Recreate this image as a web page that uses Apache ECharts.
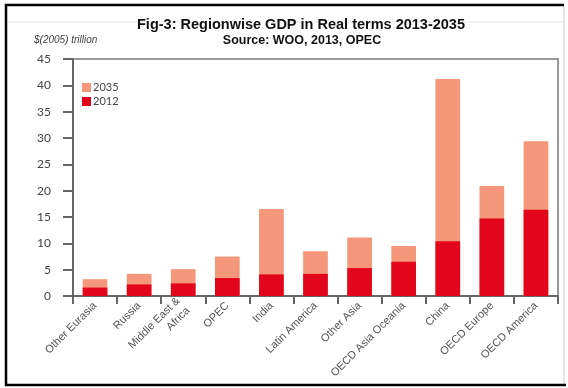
<!DOCTYPE html>
<html><head><meta charset="utf-8">
<script src="https://cdn.jsdelivr.net/npm/echarts@6/dist/echarts.min.js"></script>
<style>html,body{margin:0;padding:0;background:#fff}#c{width:568px;height:388px}</style>
</head><body><div id="c"></div>
<script>
const categories = ['Other Eurasia','Russia','Middle East &\nAfrica','OPEC','India','Latin America','Other Asia','OECD Asia Oceania','China','OECD Europe','OECD America'];
const gdp2035 = [3.2, 4.2, 5.1, 7.5, 16.5, 8.5, 11.1, 9.5, 41.2, 20.9, 29.4];
const gdp2012 = [1.6, 2.2, 2.4, 3.4, 4.1, 4.2, 5.3, 6.5, 10.4, 14.7, 16.4];
const yTicks = [0, 45, 5];

const chart = echarts.init(document.getElementById('c'), null, {renderer:'canvas'});
chart.setOption({
  animation: false,
  backgroundColor: '#fff',
  grid: {left: 73, right: 10, top: 59, bottom: 92, show: true, borderColor: '#999', borderWidth: 2, backgroundColor: 'transparent'},
  legend: {
    left: 82, top: 82, padding: 0, orient: 'vertical', itemWidth: 9, itemHeight: 9, itemGap: 3,
    icon: 'rect',
    textStyle: {fontFamily: 'Lato, "Liberation Sans", sans-serif', fontSize: 11, color: '#444', padding: [0,0,0,-3]},
    data: ['2035', '2012']
  },
  xAxis: {
    type: 'category', data: categories,
    axisLine: {lineStyle: {color: '#666', width: 2}},
    axisTick: {show: true, length: 8, lineStyle: {color: '#666', width: 2}},
    axisLabel: {rotate: 45, fontSize: 11, color: '#555', fontFamily: '"Liberation Sans", Arial, sans-serif', margin: 8, interval: 0, lineHeight: 14}
  },
  yAxis: {
    type: 'value', min: yTicks[0], max: yTicks[1], interval: yTicks[2],
    splitLine: {show: false},
    axisLine: {show: true, lineStyle: {color: '#666', width: 2}},
    axisTick: {show: true, length: 10, inside: false, lineStyle: {color: '#666', width: 2}},
    axisLabel: {fontSize: 12, color: '#444', fontFamily: 'Lato, "Liberation Sans", sans-serif', margin: 22}
  },
  series: [
    {name: '2035', type: 'bar', data: gdp2035, barWidth: '56%', barGap: '-100%', itemStyle: {color: '#F4977A'}},
    {name: '2012', type: 'bar', data: gdp2012, barWidth: '56%', barGap: '-100%', itemStyle: {color: '#E3051B'}}
  ],
  graphic: [
    {type: 'line', shape: {x1: 6, y1: 22, x2: 563, y2: 22}, style: {stroke: '#e6e6e6', lineWidth: 1}, z: -1},
    {type: 'line', shape: {x1: 564, y1: 5, x2: 564, y2: 385}, style: {stroke: '#ccc', lineWidth: 1}},
    {type: 'polyline', shape: {points: [[564,5],[6,5],[6,385],[566,385]]}, style: {stroke: '#000', lineWidth: 2.5, fill: null}},
    {type: 'text', x: 301, y: 25, style: {text: 'Fig-3: Regionwise GDP in Real terms 2013-2035', font: 'bold 14.5px "Liberation Sans", Arial, sans-serif', fill: '#111', textAlign: 'center', textVerticalAlign: 'middle'}},
    {type: 'text', x: 302, y: 41, style: {text: 'Source: WOO, 2013, OPEC', font: 'bold 12.5px "Liberation Sans", Arial, sans-serif', fill: '#111', textAlign: 'center', textVerticalAlign: 'middle'}},
    {type: 'text', x: 34, y: 40, style: {text: '$(2005) trillion', font: 'italic 10px "Liberation Sans", Arial, sans-serif', fill: '#444', textAlign: 'left', textVerticalAlign: 'middle'}}
  ]
});
</script></body></html>
